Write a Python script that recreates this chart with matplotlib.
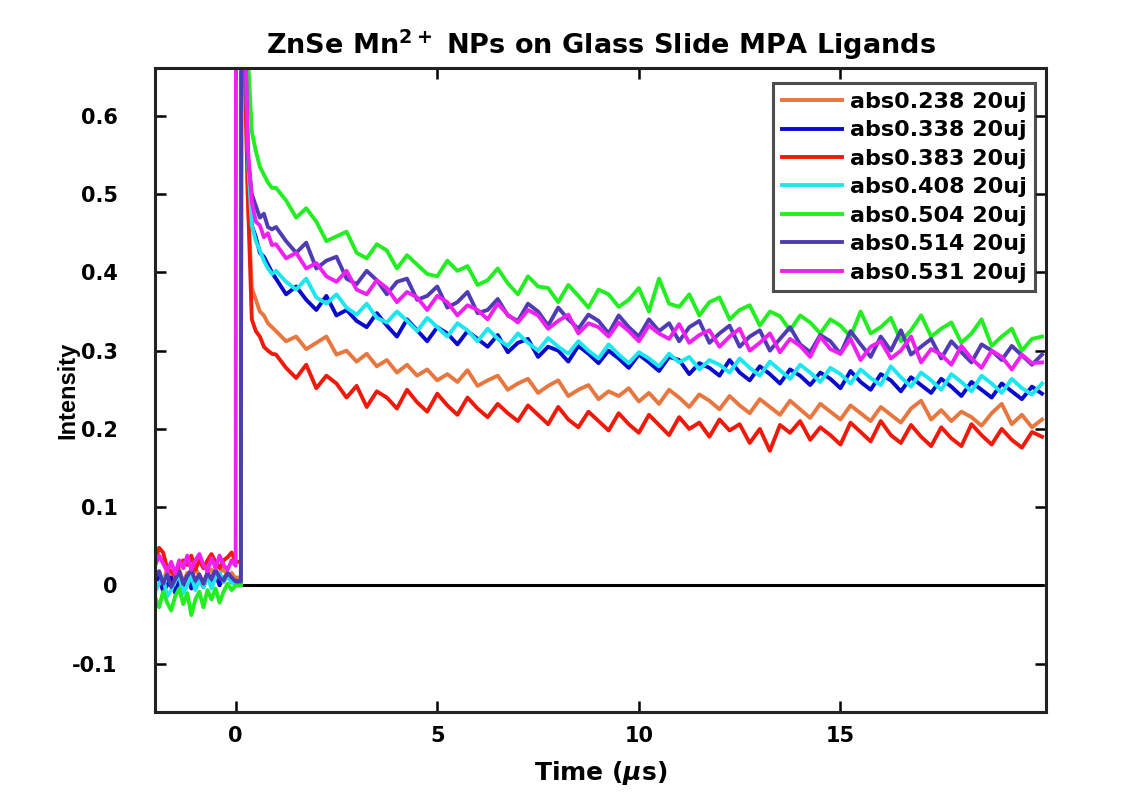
import numpy as np
import matplotlib
matplotlib.use("Agg")
import matplotlib.pyplot as plt

plt.rcParams['font.family'] = ['DejaVu Sans']
plt.rcParams['font.weight'] = 'bold'
plt.rcParams['mathtext.fontset'] = 'dejavusans'

# ---------------- data ----------------
labels = ['abs0.238 20uj', 'abs0.338 20uj', 'abs0.383 20uj', 'abs0.408 20uj',
          'abs0.504 20uj', 'abs0.514 20uj', 'abs0.531 20uj']
colors = ['#E8773F', '#0A0ACF', '#F01A0A', '#1EE6EE', '#22EE22', '#4E3CB4', '#F020F0']

# time grid (us): pre-trigger, rise, tail
t_pre = np.round(np.arange(-2.0, 0.0001, 0.1), 2)
t_rise = np.array([0.01, 0.13, 0.14, 0.2, 0.3, 0.4, 0.5, 0.6, 0.7, 0.8, 0.9])
t_tail = np.round(np.arange(1.0, 20.0001, 0.25), 2)

pre_orange = [0.010, 0.018, 0.002, 0.022, 0.008, 0.014, 0.020, 0.004, 0.016, 0.008, 0.022,
              0.012, 0.004, 0.016, 0.020, 0.008, 0.016, 0.022, 0.010, 0.016, 0.008]
pre_blue = [0.005, 0.012, -0.008, 0.000, 0.010, -0.010, 0.006, 0.000, 0.012, -0.004, 0.006,
            0.010, -0.002, 0.012, 0.004, 0.014, 0.000, 0.010, 0.012, 0.004, 0.002]
pre_red = [0.030, 0.048, 0.042, 0.022, 0.018, 0.012, 0.026, 0.032, 0.026, 0.038, 0.020,
           0.032, 0.022, 0.032, 0.040, 0.030, 0.022, 0.032, 0.036, 0.042, 0.030]
pre_cyan = [-0.008, 0.002, 0.010, -0.014, -0.006, 0.006, 0.012, -0.010, 0.000, 0.014, -0.006,
            0.006, -0.002, 0.012, -0.004, 0.010, 0.016, 0.004, 0.012, 0.004, 0.000]
pre_green = [-0.015, -0.028, -0.008, -0.022, -0.032, -0.014, -0.004, -0.024, -0.010, -0.038, -0.018,
             -0.008, -0.028, -0.006, -0.018, -0.004, -0.022, -0.008, 0.002, -0.006, 0.000]
pre_purple = [0.010, 0.018, 0.002, 0.014, -0.002, 0.008, 0.018, 0.002, 0.012, 0.020, 0.006,
              0.014, 0.002, 0.016, 0.008, 0.020, 0.010, 0.006, 0.016, 0.010, 0.005]
pre_magenta = [0.025, 0.038, 0.028, 0.018, 0.030, 0.015, 0.032, 0.022, 0.038, 0.020, 0.032,
               0.040, 0.026, 0.018, 0.035, 0.022, 0.038, 0.026, 0.020, 0.032, 0.025]

rise_orange = [0.010, 0.010, 0.90, 0.75, 0.50, 0.38, 0.365, 0.350, 0.345, 0.335, 0.330]
rise_blue = [0.005, 0.005, 0.90, 0.80, 0.55, 0.46, 0.445, 0.425, 0.420, 0.410, 0.400]
rise_red = [0.030, 0.030, 0.90, 0.72, 0.50, 0.34, 0.325, 0.318, 0.305, 0.300, 0.296]
rise_cyan = [0.000, 0.000, 0.90, 0.80, 0.55, 0.46, 0.440, 0.428, 0.415, 0.405, 0.398]
rise_green = [0.000, 0.000, 0.90, 0.85, 0.68, 0.58, 0.555, 0.535, 0.525, 0.515, 0.508]
rise_purple = [0.005, 0.005, 0.90, 0.80, 0.55, 0.50, 0.485, 0.470, 0.475, 0.458, 0.455]
rise_magenta = [0.90, 0.90, 0.90, 0.80, 0.56, 0.49, 0.465, 0.460, 0.445, 0.450, 0.435]

tail_orange = [0.325, 0.312, 0.318, 0.302, 0.310, 0.318, 0.295, 0.300, 0.286, 0.296, 0.280,
               0.288, 0.272, 0.282, 0.268, 0.276, 0.262, 0.270, 0.260, 0.275, 0.255, 0.262,
               0.268, 0.250, 0.258, 0.264, 0.246, 0.255, 0.262, 0.242, 0.250, 0.256, 0.238,
               0.248, 0.242, 0.252, 0.235, 0.246, 0.232, 0.250, 0.240, 0.228, 0.244, 0.236,
               0.225, 0.242, 0.230, 0.220, 0.238, 0.228, 0.218, 0.236, 0.225, 0.214, 0.232,
               0.222, 0.212, 0.230, 0.220, 0.210, 0.228, 0.218, 0.208, 0.226, 0.236, 0.212,
               0.224, 0.210, 0.222, 0.215, 0.204, 0.220, 0.232, 0.206, 0.218, 0.202, 0.212]
tail_blue = [0.392, 0.372, 0.382, 0.365, 0.352, 0.370, 0.345, 0.352, 0.338, 0.330, 0.348,
             0.332, 0.318, 0.340, 0.326, 0.312, 0.330, 0.322, 0.308, 0.325, 0.315, 0.305,
             0.320, 0.298, 0.310, 0.315, 0.292, 0.305, 0.300, 0.286, 0.306, 0.296, 0.284,
             0.300, 0.290, 0.278, 0.295, 0.285, 0.274, 0.292, 0.288, 0.270, 0.284, 0.278,
             0.268, 0.288, 0.272, 0.262, 0.280, 0.270, 0.258, 0.276, 0.268, 0.256, 0.272,
             0.264, 0.252, 0.274, 0.260, 0.250, 0.270, 0.262, 0.248, 0.266, 0.256, 0.246,
             0.264, 0.254, 0.242, 0.260, 0.250, 0.240, 0.258, 0.248, 0.238, 0.254, 0.245]
tail_red = [0.295, 0.278, 0.265, 0.282, 0.252, 0.268, 0.258, 0.240, 0.255, 0.228, 0.248,
            0.240, 0.226, 0.250, 0.234, 0.222, 0.245, 0.230, 0.218, 0.240, 0.226, 0.215,
            0.232, 0.220, 0.210, 0.230, 0.218, 0.206, 0.228, 0.212, 0.202, 0.222, 0.210,
            0.198, 0.220, 0.206, 0.195, 0.218, 0.205, 0.192, 0.215, 0.200, 0.208, 0.190,
            0.212, 0.198, 0.206, 0.182, 0.200, 0.172, 0.205, 0.195, 0.210, 0.186, 0.202,
            0.192, 0.180, 0.208, 0.196, 0.184, 0.210, 0.192, 0.182, 0.205, 0.190, 0.178,
            0.202, 0.188, 0.178, 0.206, 0.192, 0.180, 0.200, 0.186, 0.176, 0.196, 0.190]
tail_cyan = [0.402, 0.388, 0.378, 0.392, 0.368, 0.360, 0.372, 0.355, 0.346, 0.360, 0.342,
             0.336, 0.350, 0.338, 0.325, 0.342, 0.330, 0.318, 0.335, 0.326, 0.312, 0.328,
             0.315, 0.306, 0.322, 0.310, 0.300, 0.316, 0.305, 0.296, 0.312, 0.300, 0.290,
             0.308, 0.295, 0.284, 0.298, 0.290, 0.280, 0.296, 0.285, 0.292, 0.276, 0.288,
             0.282, 0.272, 0.290, 0.278, 0.268, 0.286, 0.275, 0.264, 0.282, 0.272, 0.260,
             0.278, 0.270, 0.258, 0.276, 0.265, 0.256, 0.280, 0.266, 0.254, 0.272, 0.262,
             0.250, 0.270, 0.260, 0.248, 0.268, 0.258, 0.246, 0.264, 0.252, 0.244, 0.258]
tail_green = [0.508, 0.492, 0.470, 0.482, 0.465, 0.440, 0.446, 0.452, 0.425, 0.418, 0.436,
              0.428, 0.405, 0.422, 0.410, 0.398, 0.395, 0.415, 0.402, 0.408, 0.384, 0.390,
              0.405, 0.386, 0.372, 0.395, 0.382, 0.380, 0.362, 0.384, 0.370, 0.355, 0.378,
              0.372, 0.356, 0.365, 0.380, 0.350, 0.392, 0.360, 0.356, 0.372, 0.345, 0.362,
              0.368, 0.340, 0.352, 0.358, 0.332, 0.350, 0.344, 0.326, 0.345, 0.336, 0.322,
              0.340, 0.332, 0.318, 0.350, 0.322, 0.330, 0.342, 0.312, 0.326, 0.345, 0.318,
              0.328, 0.336, 0.310, 0.322, 0.340, 0.306, 0.318, 0.328, 0.300, 0.315, 0.318]
tail_purple = [0.458, 0.440, 0.425, 0.438, 0.405, 0.415, 0.420, 0.392, 0.385, 0.402, 0.390,
               0.372, 0.388, 0.392, 0.365, 0.370, 0.382, 0.355, 0.362, 0.375, 0.348, 0.352,
               0.366, 0.345, 0.338, 0.360, 0.350, 0.332, 0.355, 0.340, 0.328, 0.346, 0.338,
               0.322, 0.345, 0.330, 0.318, 0.340, 0.325, 0.335, 0.312, 0.330, 0.338, 0.310,
               0.322, 0.332, 0.305, 0.318, 0.326, 0.300, 0.315, 0.330, 0.308, 0.298, 0.320,
               0.312, 0.296, 0.325, 0.308, 0.292, 0.318, 0.300, 0.326, 0.295, 0.305, 0.315,
               0.290, 0.312, 0.298, 0.285, 0.308, 0.300, 0.288, 0.306, 0.294, 0.282, 0.295]
tail_magenta = [0.436, 0.418, 0.425, 0.405, 0.412, 0.395, 0.388, 0.402, 0.378, 0.372, 0.390,
                0.380, 0.362, 0.375, 0.368, 0.352, 0.370, 0.362, 0.345, 0.358, 0.352, 0.340,
                0.360, 0.346, 0.336, 0.352, 0.345, 0.328, 0.338, 0.346, 0.322, 0.335, 0.330,
                0.318, 0.336, 0.325, 0.312, 0.332, 0.322, 0.315, 0.334, 0.310, 0.320, 0.326,
                0.305, 0.318, 0.328, 0.300, 0.310, 0.322, 0.298, 0.315, 0.306, 0.292, 0.318,
                0.302, 0.296, 0.315, 0.288, 0.305, 0.312, 0.290, 0.300, 0.318, 0.285, 0.302,
                0.295, 0.282, 0.306, 0.290, 0.278, 0.300, 0.292, 0.276, 0.295, 0.284, 0.285]

series = [
    (pre_orange, rise_orange, tail_orange),
    (pre_blue, rise_blue, tail_blue),
    (pre_red, rise_red, tail_red),
    (pre_cyan, rise_cyan, tail_cyan),
    (pre_green, rise_green, tail_green),
    (pre_purple, rise_purple, tail_purple),
    (pre_magenta, rise_magenta, tail_magenta),
]

y_ticks = [-0.1, 0, 0.1, 0.2, 0.3, 0.4, 0.5, 0.6]
y_ticklabels = ['-0.1', '0', '0.1', '0.2', '0.3', '0.4', '0.5', '0.6']
x_ticks = [0, 5, 10, 15]

# ---------------- plot ----------------
fig = plt.figure(figsize=(11.4, 7.93), dpi=100)
ax = fig.add_axes([0.136, 0.102, 0.7816, 0.812])

t_all = np.concatenate([t_pre, t_rise, t_tail])
for (pre, rise, tail), lab, col in zip(series, labels, colors):
    y = np.concatenate([pre, rise, tail])
    ax.plot(t_all, y, color=col, lw=2.8, label=lab)

ax.plot([0, 20], [0, 0], color='black', lw=2.2, zorder=1)

ax.set_xlim(-2.0, 20.1)
ax.set_ylim(-0.162, 0.661)
ax.set_xticks(x_ticks)
ax.set_xticklabels([str(v) for v in x_ticks])
ax.set_yticks(y_ticks)
ax.set_yticklabels(y_ticklabels)
ax.tick_params(direction='in', top=True, right=True, length=8, width=1.8,
               labelsize=15)
ax.tick_params(axis='y', pad=27)
ax.tick_params(axis='x', pad=10)
for lbl in ax.get_xticklabels() + ax.get_yticklabels():
    lbl.set_fontweight('bold')
for sp in ax.spines.values():
    sp.set_linewidth(2.2)
    sp.set_color('#222222')

ax.set_xlabel(r'Time ($\mu$s)', fontsize=18, fontweight='bold', labelpad=9)
ax.set_ylabel('Intensity', fontsize=17, fontweight='bold', labelpad=-5.5,
              family='Liberation Sans')
ax.set_title(r'ZnSe Mn$^{\mathbf{2+}}$ NPs on Glass Slide MPA Ligands',
             fontsize=19.5, fontweight='bold', pad=10)

leg = ax.legend(loc='upper right', bbox_to_anchor=(0.988, 0.977), fontsize=16,
                frameon=True, fancybox=False, edgecolor='#222222',
                handlelength=2.7, handletextpad=0.35, labelspacing=0.38,
                borderpad=0.4, borderaxespad=0.0)
leg.get_frame().set_linewidth(2.2)
for txt in leg.get_texts():
    txt.set_fontweight('bold')

fig.savefig('out.png', dpi=100, facecolor='white')
